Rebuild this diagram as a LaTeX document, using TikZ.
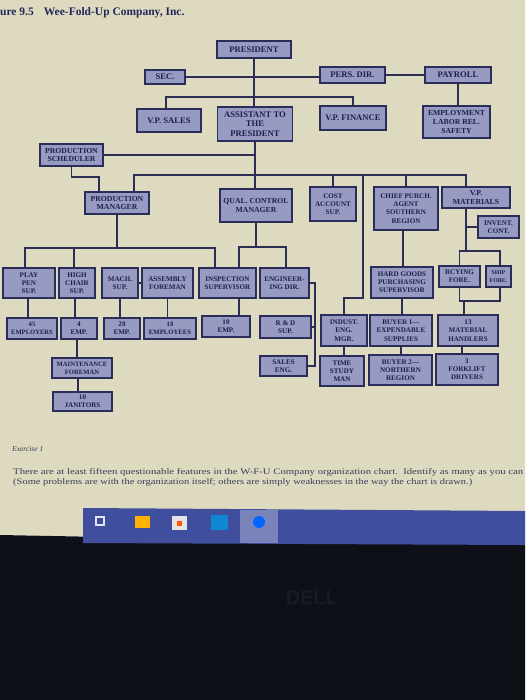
\documentclass[tikz,border=0pt]{standalone}
\usepackage{fontspec}
\setmainfont{Liberation Serif}
\newfontfamily\sansf{Liberation Sans}
\usepackage{graphicx}
\definecolor{bg}{HTML}{DEDAC0}
\definecolor{boxfill}{HTML}{979BC2}
\definecolor{boxline}{HTML}{2A2C5A}
\definecolor{ink}{HTML}{1D1F4C}
\definecolor{wirec}{HTML}{2B2D55}
\definecolor{bezel}{HTML}{0E1018}
\definecolor{taskbar}{HTML}{3F4F9E}
\definecolor{titlec}{HTML}{23265A}
\definecolor{textc}{HTML}{3A3C5A}
\definecolor{dellc}{HTML}{191B23}
\tikzset{
  orgbox/.style={draw=boxline, fill=boxfill, line width=1.2pt, inner sep=0.5pt,
    align=center, text=ink, font=\bfseries\fontsize{7.1}{8.2}\selectfont},
  bigbox/.style={orgbox, font=\bfseries\fontsize{8.6}{9.4}\selectfont},
  midbox/.style={orgbox, font=\bfseries\fontsize{7.7}{8.6}\selectfont},
  wire/.style={draw=wirec, line width=1.5pt},
}
\begin{document}
\begin{tikzpicture}[x=1pt,y=-1pt]
\useasboundingbox (0,0) rectangle (525,700);
\fill[bg] (0,0) -- (525,0) -- (525,545) -- (0,535) -- cycle;
\fill[bezel] (0,535) -- (525,545) -- (525,700) -- (0,700) -- cycle;
\fill[taskbar] (83,508) -- (525,511) -- (525,545) -- (83,543) -- cycle;
% taskbar icons
\fill[white!85!taskbar] (95,516) rectangle (105,526);
\fill[taskbar] (97,518) rectangle (103,524);
\fill[orange!60!yellow] (135,516) rectangle (150,528);
\fill[white!80!gray] (172,516) rectangle (187,530);
\fill[orange!70!red] (177,521) rectangle (182,526);
\fill[cyan!70!blue] (211,515) rectangle (228,530);
\fill[white!30!taskbar] (240,510) rectangle (278,543);
\fill[blue!60!cyan] (259,522) circle (6);
\node[font=\sansf\bfseries\fontsize{20}{20}\selectfont, text=dellc] (dell) at (312,598) {DELL};

% title and exercise text
\node[anchor=west, inner sep=0, font=\bfseries\fontsize{11.5}{13}\selectfont, text=titlec] (title) at (0,13) {ure 9.5\hspace{10pt}Wee-Fold-Up Company, Inc.};
\node[anchor=west, inner sep=0, font=\itshape\fontsize{7.5}{9}\selectfont, text=textc] (ex) at (12,449) {Exercise 1};
\node[anchor=west, inner sep=0, text=textc] (p1) at (13,472) {\resizebox{510pt}{6pt}{\fontsize{9}{11}\selectfont There are at least fifteen questionable features in the W-F-U Company organization chart.\ \ Identify as many as you can}};
\node[anchor=west, inner sep=0, text=textc] (p2) at (13,482) {\resizebox{459pt}{6pt}{\fontsize{9}{11}\selectfont (Some problems are with the organization itself; others are simply weaknesses in the way the chart is drawn.)}};

% boxes
\node[bigbox, minimum width=74pt, minimum height=17pt] (pres) at (254,49.5) {PRESIDENT};
\node[bigbox, minimum width=40pt, minimum height=14pt] (sec) at (165,77) {SEC.};
\node[bigbox, minimum width=65pt, minimum height=16pt] (pers) at (352.5,75) {PERS. DIR.};
\node[bigbox, minimum width=66pt, minimum height=16pt] (payroll) at (458,75) {PAYROLL};
\node[midbox, minimum width=67pt, minimum height=32pt] (employ) at (456.5,122) {EMPLOYMENT\\LABOR REL.\\SAFETY};
\node[bigbox, minimum width=64pt, minimum height=23pt] (vpsales) at (169,120.5) {V.P. SALES};
\node[bigbox, minimum width=75pt, minimum height=34pt] (asst) at (255,124) {ASSISTANT TO\\THE\\PRESIDENT};
\node[bigbox, minimum width=66pt, minimum height=24pt] (vpfin) at (353,118) {V.P. FINANCE};
\node[midbox, minimum width=63pt, minimum height=22pt] (sched) at (71.5,155) {PRODUCTION\\SCHEDULER};
\node[midbox, minimum width=64pt, minimum height=22pt] (pm) at (117,203) {PRODUCTION\\MANAGER};
\node[midbox, minimum width=72pt, minimum height=33pt] (qc) at (256,205.5) {QUAL. CONTROL\\MANAGER};
\node[orgbox, minimum width=46pt, minimum height=34pt] (cost) at (333,204) {COST\\ACCOUNT\\SUP.};
\node[orgbox, minimum width=64pt, minimum height=43pt] (chief) at (406,208.5) {CHIEF PURCH.\\AGENT\\SOUTHERN\\REGION};
\node[midbox, minimum width=68pt, minimum height=21pt] (vpmat) at (476,197.5) {V.P.\\MATERIALS};
\node[orgbox, minimum width=41pt, minimum height=22pt] (invent) at (498.5,227) {INVENT.\\CONT.};
\node[orgbox, minimum width=52pt, minimum height=30pt] (playpen) at (29,283) {PLAY\\PEN\\SUP.};
\node[orgbox, minimum width=36pt, minimum height=30pt] (highchair) at (77,283) {HIGH\\CHAIR\\SUP.};
\node[orgbox, minimum width=36pt, minimum height=30pt] (mach) at (120,283) {MACH.\\SUP.};
\node[orgbox, minimum width=51pt, minimum height=30pt] (assembly) at (167.5,283) {ASSEMBLY\\FOREMAN};
\node[orgbox, minimum width=57pt, minimum height=30pt] (insp) at (227.5,283) {INSPECTION\\SUPERVISOR};
\node[orgbox, minimum width=49pt, minimum height=30pt] (eng) at (284.5,283) {ENGINEER-\\ING DIR.};
\node[orgbox, minimum width=62pt, minimum height=31pt] (hardgoods) at (402,282.5) {HARD GOODS\\PURCHASING\\SUPERVISOR};
\node[orgbox, minimum width=41pt, minimum height=21pt] (rcying) at (459.5,276.5) {RCYING\\FORE.};
\node[orgbox, minimum width=25pt, minimum height=21pt, font=\bfseries\fontsize{5.8}{7.4}\selectfont] (ship) at (498.5,276.5) {SHIP\\FORE.};
\node[orgbox, minimum width=50pt, minimum height=21pt, font=\bfseries\fontsize{6.6}{8}\selectfont] (emp45) at (32,328.5) {45\\EMPLOYERS};
\node[orgbox, minimum width=36pt, minimum height=21pt] (emp4) at (79,328.5) {4\\EMP.};
\node[orgbox, minimum width=36pt, minimum height=21pt] (emp20) at (122,328.5) {20\\EMP.};
\node[orgbox, minimum width=52pt, minimum height=21pt, font=\bfseries\fontsize{6.7}{8}\selectfont] (emp18) at (170,328.5) {18\\EMPLOYEES};
\node[orgbox, minimum width=48pt, minimum height=21pt] (emp10) at (226,326.5) {10\\EMP.};
\node[orgbox, minimum width=51pt, minimum height=22pt] (rd) at (285.5,327) {R \& D\\SUP.};
\node[orgbox, minimum width=46pt, minimum height=31pt] (indust) at (344,330.5) {INDUST.\\ENG.\\MGR.};
\node[orgbox, minimum width=62pt, minimum height=31pt] (buyer1) at (401,330.5) {BUYER 1—\\EXPENDABLE\\SUPPLIES};
\node[orgbox, minimum width=60pt, minimum height=31pt] (mathand) at (468,330.5) {13\\MATERIAL\\HANDLERS};
\node[orgbox, minimum width=60pt, minimum height=20pt, font=\bfseries\fontsize{6.6}{8}\selectfont] (maint) at (82,368) {MAINTENANCE\\FOREMAN};
\node[orgbox, minimum width=47pt, minimum height=20pt] (saleseng) at (283.5,366) {SALES\\ENG.};
\node[orgbox, minimum width=44pt, minimum height=30pt] (timestudy) at (342,371) {TIME\\STUDY\\MAN};
\node[orgbox, minimum width=63pt, minimum height=30pt] (buyer2) at (400.5,370) {BUYER 2—\\NORTHERN\\REGION};
\node[orgbox, minimum width=62pt, minimum height=31pt] (forklift) at (467,369.5) {3\\FORKLIFT\\DRIVERS};
\node[orgbox, minimum width=59pt, minimum height=19pt] (janitors) at (82.5,401.5) {10\\JANITORS};

% junction points
\coordinate (j1) at (254,97);
\coordinate (j2) at (255,153);
\coordinate (h3) at (466,175);
\coordinate (v1) at (363,298);
\coordinate (s1) at (99,177);
\coordinate (h4) at (215,248);
\coordinate (q2) at (286,247);
\coordinate (e1) at (315,366);
\coordinate (m1) at (466,251);
\coordinate (m3) at (500,251);
\coordinate (m4) at (500,301);

% connectors
\draw[wire] (pres.south) -- (pres.south |- asst.north);
\draw[wire] (sec.east) -- (sec.east -| pers.west);
\draw[wire] (pers.east) -- (pers.east -| payroll.west);
\draw[wire] (payroll.south) -- (payroll.south |- employ.north);
\draw[wire] ([xshift=-3pt]vpsales.north) |- (j1) -| (vpfin.north);
\draw[wire] (asst.south) -- (asst.south |- qc.north);
\draw[wire] (sched.east) -- (sched.east -| j2);
\draw[wire] ([xshift=17pt]pm.north) |- (h3) -- ([xshift=-10pt]vpmat.north);
\draw[wire] (cost.north) -- (cost.north |- h3);
\draw[wire] (chief.north) -- (chief.north |- h3);
\draw[wire] (h3 -| v1) -- (v1) -| (indust.north);
\draw[wire] (sched.south) |- (s1) -- (s1 |- pm.north);
\draw[wire] (pm.south) -- (pm.south |- h4);
\draw[wire] ([xshift=-4pt]playpen.north) |- (h4) -- (h4 |- insp.north);
\draw[wire] ([xshift=-3pt]highchair.north) -- ([xshift=-3pt]highchair.north |- h4);
\draw[wire] (mach.east) -- (assembly.west);
\draw[wire] (qc.south) -- (qc.south |- q2);
\draw[wire] ([xshift=11.5pt]insp.north) |- (q2) -- (q2 |- eng.north);
\draw[wire] (eng.east) -| (e1) -- (e1 -| saleseng.east);
\draw[wire] (rd.east) -- (rd.east -| e1);
\draw[wire] ([xshift=-3pt]chief.south) -- ([xshift=-3pt]chief.south |- hardgoods.north);
\draw[wire] (hardgoods.south) -- (hardgoods.south |- buyer1.north);
\draw[wire] (buyer1.south) -- (buyer1.south |- buyer2.north);
\draw[wire] ([xshift=-10pt]vpmat.south) -- (m1);
\draw[wire] (invent.west -| m1) -- (invent.west);
\draw[wire] (rcying.north) |- (m3) -- (m3 |- ship.north);
\draw[wire] (rcying.south) |- (m4) -- (m4 |- ship.south);
\draw[wire] ([xshift=-4pt]mathand.north) -- ([xshift=-4pt]mathand.north |- m4);
\draw[wire] ([xshift=-6pt]mathand.south) -- ([xshift=-6pt]mathand.south |- forklift.north);
\draw[wire] (indust.south) -- (indust.south |- timestudy.north);
\draw[wire] ([xshift=-1pt]playpen.south) -- ([xshift=-1pt]playpen.south |- emp45.north);
\draw[wire] ([xshift=-2pt]highchair.south) -- ([xshift=-2pt]highchair.south |- emp4.north);
\draw[wire] (mach.south) -- (mach.south |- emp20.north);
\draw[wire] (assembly.south) -- (assembly.south |- emp18.north);
\draw[wire] ([xshift=11.5pt]insp.south) -- ([xshift=11.5pt]insp.south |- emp10.north);
\draw[wire] ([xshift=-2pt]emp4.south) -- ([xshift=-2pt]emp4.south |- maint.north);
\draw[wire] ([xshift=-4pt]maint.south) -- ([xshift=-4pt]maint.south |- janitors.north);
\end{tikzpicture}
\end{document}
